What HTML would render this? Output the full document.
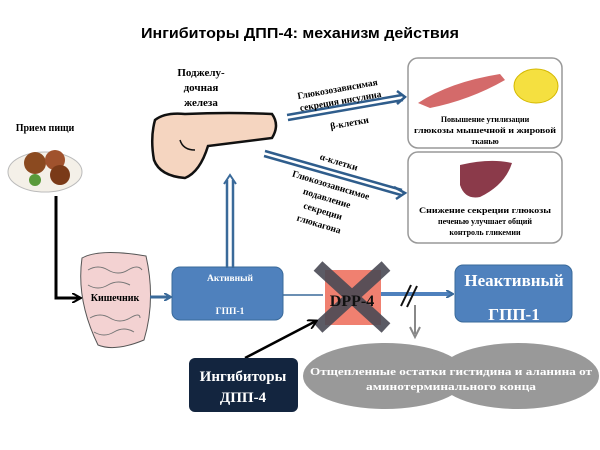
<!DOCTYPE html>
<html><head><meta charset="utf-8"><style>
body{margin:0;background:#fff}
svg{display:block}
text{font-family:"Liberation Serif",serif;font-weight:bold}
</style></head><body>
<svg width="600" height="450" viewBox="0 0 600 450" xmlns="http://www.w3.org/2000/svg">
<defs>
<marker id="ba" markerWidth="8" markerHeight="8" refX="6" refY="4" orient="auto" markerUnits="userSpaceOnUse"><path d="M0,0 L7,4 L0,8" fill="none" stroke="#3a6a9a" stroke-width="2"/></marker>
<marker id="ka" markerWidth="10" markerHeight="10" refX="8" refY="5" orient="auto" markerUnits="userSpaceOnUse"><path d="M0,0 L9,5 L0,10" fill="none" stroke="#000" stroke-width="2"/></marker>
</defs>
<text x="300" y="38" text-anchor="middle" font-size="15" style="font-family:'Liberation Sans',sans-serif" textLength="318" lengthAdjust="spacingAndGlyphs">Ингибиторы ДПП-4: механизм действия</text>
<!-- pancreas -->
<path d="M155,120 Q165,112 185,114 Q230,112 272,114 Q280,125 272,138 Q240,142 208,146 Q200,172 185,178 Q160,176 154,160 Q150,138 155,120Z" fill="#f5d5c0" stroke="#111" stroke-width="2.5"/>
<path d="M180,140 Q183,150 195,150" fill="none" stroke="#111" stroke-width="1.5"/>
<text x="201" y="76" font-size="11" text-anchor="middle">Поджелу-</text>
<text x="201" y="91" font-size="11" text-anchor="middle">дочная</text>
<text x="201" y="106" font-size="11" text-anchor="middle">железа</text>
<!-- food -->
<text x="45" y="131" font-size="10" text-anchor="middle">Прием пищи</text>
<ellipse cx="45" cy="172" rx="37" ry="20" fill="#f4f0e8" stroke="#bbb"/>
<circle cx="35" cy="163" r="11" fill="#8b4a20"/><circle cx="55" cy="160" r="10" fill="#a0522d"/><circle cx="60" cy="175" r="10" fill="#7a3a18"/><circle cx="35" cy="180" r="6" fill="#5a9a3a"/>
<path d="M56,196 V298 H80" fill="none" stroke="#000" stroke-width="3" marker-end="url(#ka)"/>
<!-- intestine -->
<path d="M82,258 Q100,248 146,256 Q156,300 144,340 Q115,352 98,345 Q76,300 82,258Z" fill="#f3d2d2" stroke="#555"/>
<path d="M88,270 q10,-6 20,0 t20,0 t14,0 M88,285 q10,6 20,0 t22,0 M90,318 q10,-6 20,0 t20,0 t10,0 M94,332 q10,6 20,0 t20,0" fill="none" stroke="#777"/>
<text x="115" y="301" font-size="10" text-anchor="middle">Кишечник</text>
<line x1="150" y1="297" x2="170" y2="297" stroke="#3a6a9a" stroke-width="3" marker-end="url(#ba)"/>
<!-- active GLP -->
<rect x="172" y="267" width="111" height="53" rx="8" fill="#4f81bd" stroke="#3a6a9a"/>
<text x="230" y="281" font-size="9.5" fill="#fff" text-anchor="middle">Активный</text>
<text x="230" y="314" font-size="9.5" fill="#fff" text-anchor="middle">ГПП-1</text>
<path d="M227,268 V180 M233,268 V180" stroke="#3a6a9a" stroke-width="2.5"/>
<path d="M224,184 L230,175 L236,184" fill="none" stroke="#3a6a9a" stroke-width="2"/>
<!-- right arrows -->
<g stroke="#2f5d8c" stroke-width="2.5" fill="none">
<path d="M287,115 L402,95 M288,120 L403,100"/>
<path d="M397,91 L405,97 L397,104"/>
<path d="M265,151 L402,190 M264,156 L401,195"/>
<path d="M394,187 L405,193 L396,199"/>
</g>
<g font-size="9.5" text-anchor="middle">
<text transform="translate(338,92) rotate(-10)">Глюкозозависимая</text>
<text transform="translate(341,104) rotate(-10)">секреция инсулина</text>
<text transform="translate(350,126) rotate(-10)">β-клетки</text>
<text transform="translate(338,165) rotate(17)">α-клетки</text>
<text transform="translate(330,188) rotate(17)">Глюкозозависимое</text>
<text transform="translate(326,201) rotate(17)">подавление</text>
<text transform="translate(322,214) rotate(17)">секреции</text>
<text transform="translate(318,227) rotate(17)">глюкагона</text>
</g>
<!-- top right box -->
<rect x="408" y="58" width="154" height="90" rx="10" fill="#fff" stroke="#999" stroke-width="1.5"/>
<path d="M418,103 Q450,82 500,74 L505,80 Q470,100 430,108Z" fill="#d46a6a"/>
<ellipse cx="536" cy="86" rx="22" ry="17" fill="#f5e040" stroke="#d4b800"/>
<g font-size="8" text-anchor="middle"><text x="485" y="122">Повышение утилизации</text><text x="485" y="133" textLength="142" lengthAdjust="spacingAndGlyphs">глюкозы мышечной и жировой</text><text x="485" y="144">тканью</text></g>
<!-- bottom right box -->
<rect x="408" y="152" width="154" height="91" rx="10" fill="#fff" stroke="#999" stroke-width="1.5"/>
<path d="M460,165 Q490,158 512,163 Q505,185 480,197 Q465,200 460,185Z" fill="#8b3a4a"/>
<g font-size="8" text-anchor="middle"><text x="485" y="213" textLength="132" lengthAdjust="spacingAndGlyphs">Снижение секреции глюкозы</text><text x="485" y="224">печенью улучшает общий</text><text x="485" y="235">контроль гликемии</text></g>
<!-- DPP4 -->
<line x1="283" y1="295" x2="323" y2="295" stroke="#3a6a9a" stroke-width="1.5"/>
<rect x="325" y="270" width="56" height="55" fill="#f08070"/>
<path d="M318,266 L386,328 M386,266 L318,328" stroke="#4a4a55" stroke-width="13" opacity="0.9"/>
<text x="352" y="306" font-size="16" text-anchor="middle" fill="#111">DPP-4</text>
<line x1="381" y1="294" x2="452" y2="294" stroke="#4f81bd" stroke-width="4" marker-end="url(#ba)"/>
<path d="M401,306 L411,285 M407,307 L417,286" stroke="#111" stroke-width="2"/>
<line x1="415" y1="305" x2="415" y2="334" stroke="#888" stroke-width="2"/>
<path d="M410,327 L415,337 L420,327" fill="none" stroke="#888" stroke-width="2"/>
<!-- inactive -->
<rect x="455" y="265" width="117" height="57" rx="8" fill="#4f81bd" stroke="#3a6a9a"/>
<text x="514" y="286" font-size="17" fill="#fff" text-anchor="middle">Неактивный</text>
<text x="514" y="320" font-size="17" fill="#fff" text-anchor="middle">ГПП-1</text>
<!-- inhibitor -->
<line x1="245" y1="358" x2="316" y2="321" stroke="#000" stroke-width="2.5" marker-end="url(#ka)"/>
<rect x="189" y="358" width="109" height="54" rx="6" fill="#13253f"/>
<text x="243" y="381" font-size="15" fill="#fff" text-anchor="middle">Ингибиторы</text>
<text x="243" y="402" font-size="15" fill="#fff" text-anchor="middle">ДПП-4</text>
<!-- ellipses -->
<ellipse cx="385" cy="376" rx="82" ry="33" fill="#999"/>
<ellipse cx="518" cy="376" rx="81" ry="33" fill="#999"/>
<text x="451" y="375" font-size="10" fill="#fff" text-anchor="middle" textLength="282" lengthAdjust="spacingAndGlyphs">Отщепленные остатки гистидина и аланина от</text>
<text x="451" y="390" font-size="10" fill="#fff" text-anchor="middle" textLength="170" lengthAdjust="spacingAndGlyphs">аминотерминального конца</text>
</svg>
</body></html>
